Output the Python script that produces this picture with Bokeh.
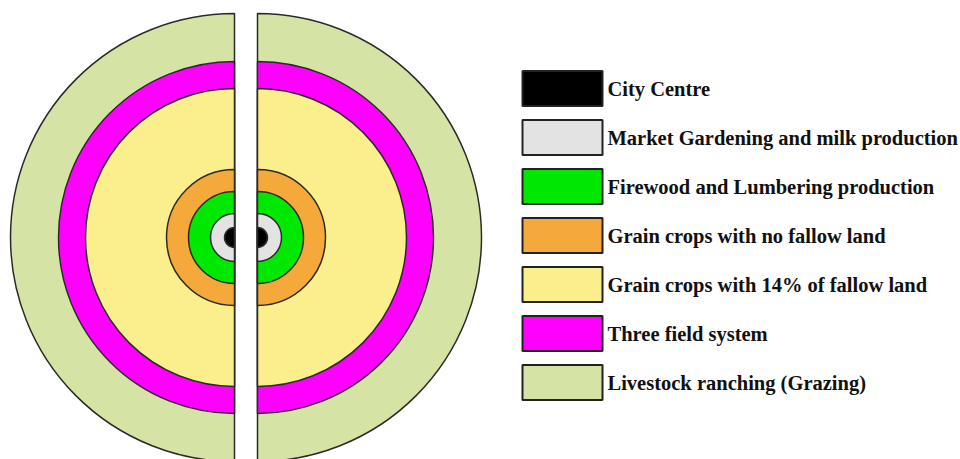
import numpy as np
from bokeh.plotting import figure
from bokeh.models import Range1d, ColumnDataSource
from bokeh.core.properties import value
from bokeh.embed import file_html
from bokeh.resources import INLINE

# Von Thünen zones (inner -> outer)
zone_labels = [
    "City Centre",
    "Market Gardening and milk production",
    "Firewood and Lumbering production",
    "Grain crops with no fallow land",
    "Grain crops with 14% of fallow land",
    "Three field system",
    "Livestock ranching (Grazing)",
]
zone_colors = ["#000000", "#e3e3e3", "#00e800", "#f6a93b", "#fbee8c", "#ff00ff", "#d5e3a5"]
zone_radii = [10, 24, 46, 68, 149, 176, 224]

W, H = 960, 459
p = figure(width=W, height=H, output_backend="svg", toolbar_location=None,
           x_range=Range1d(0, W), y_range=Range1d(459 - H, 459),
           min_border=0, outline_line_color=None)
p.axis.visible = False
p.grid.visible = False
p.background_fill_color = "white"
p.border_fill_color = "white"

cy = 459 - 237
left_cx, right_cx = 234, 257
outline = "#2b2b2b"

order = list(range(len(zone_radii)))[::-1]
src = ColumnDataSource(dict(
    r=[zone_radii[i] for i in order],
    c=[zone_colors[i] for i in order],
))
# left halves
p.wedge(x=left_cx, y=cy, radius="r", start_angle=np.pi / 2, end_angle=3 * np.pi / 2,
        fill_color="c", line_color=outline, line_width=1.5, source=src)
# right halves
p.wedge(x=right_cx, y=cy, radius="r", start_angle=-np.pi / 2, end_angle=np.pi / 2,
        fill_color="c", line_color=outline, line_width=1.5, source=src)

# legend
n = len(zone_labels)
row_y = [459 - (88 + 49 * i) for i in range(n)]
p.rect(x=[562] * n, y=row_y, width=80, height=35, fill_color=zone_colors,
       line_color="#222222", line_width=2)
p.text(x=[607] * n, y=row_y, text=zone_labels, text_font=value("Liberation Serif"),
       text_font_style="bold", text_font_size="20.5px", text_baseline="middle",
       text_align="left", text_color="#111111")

open("out.html", "w").write(file_html(p, INLINE))
